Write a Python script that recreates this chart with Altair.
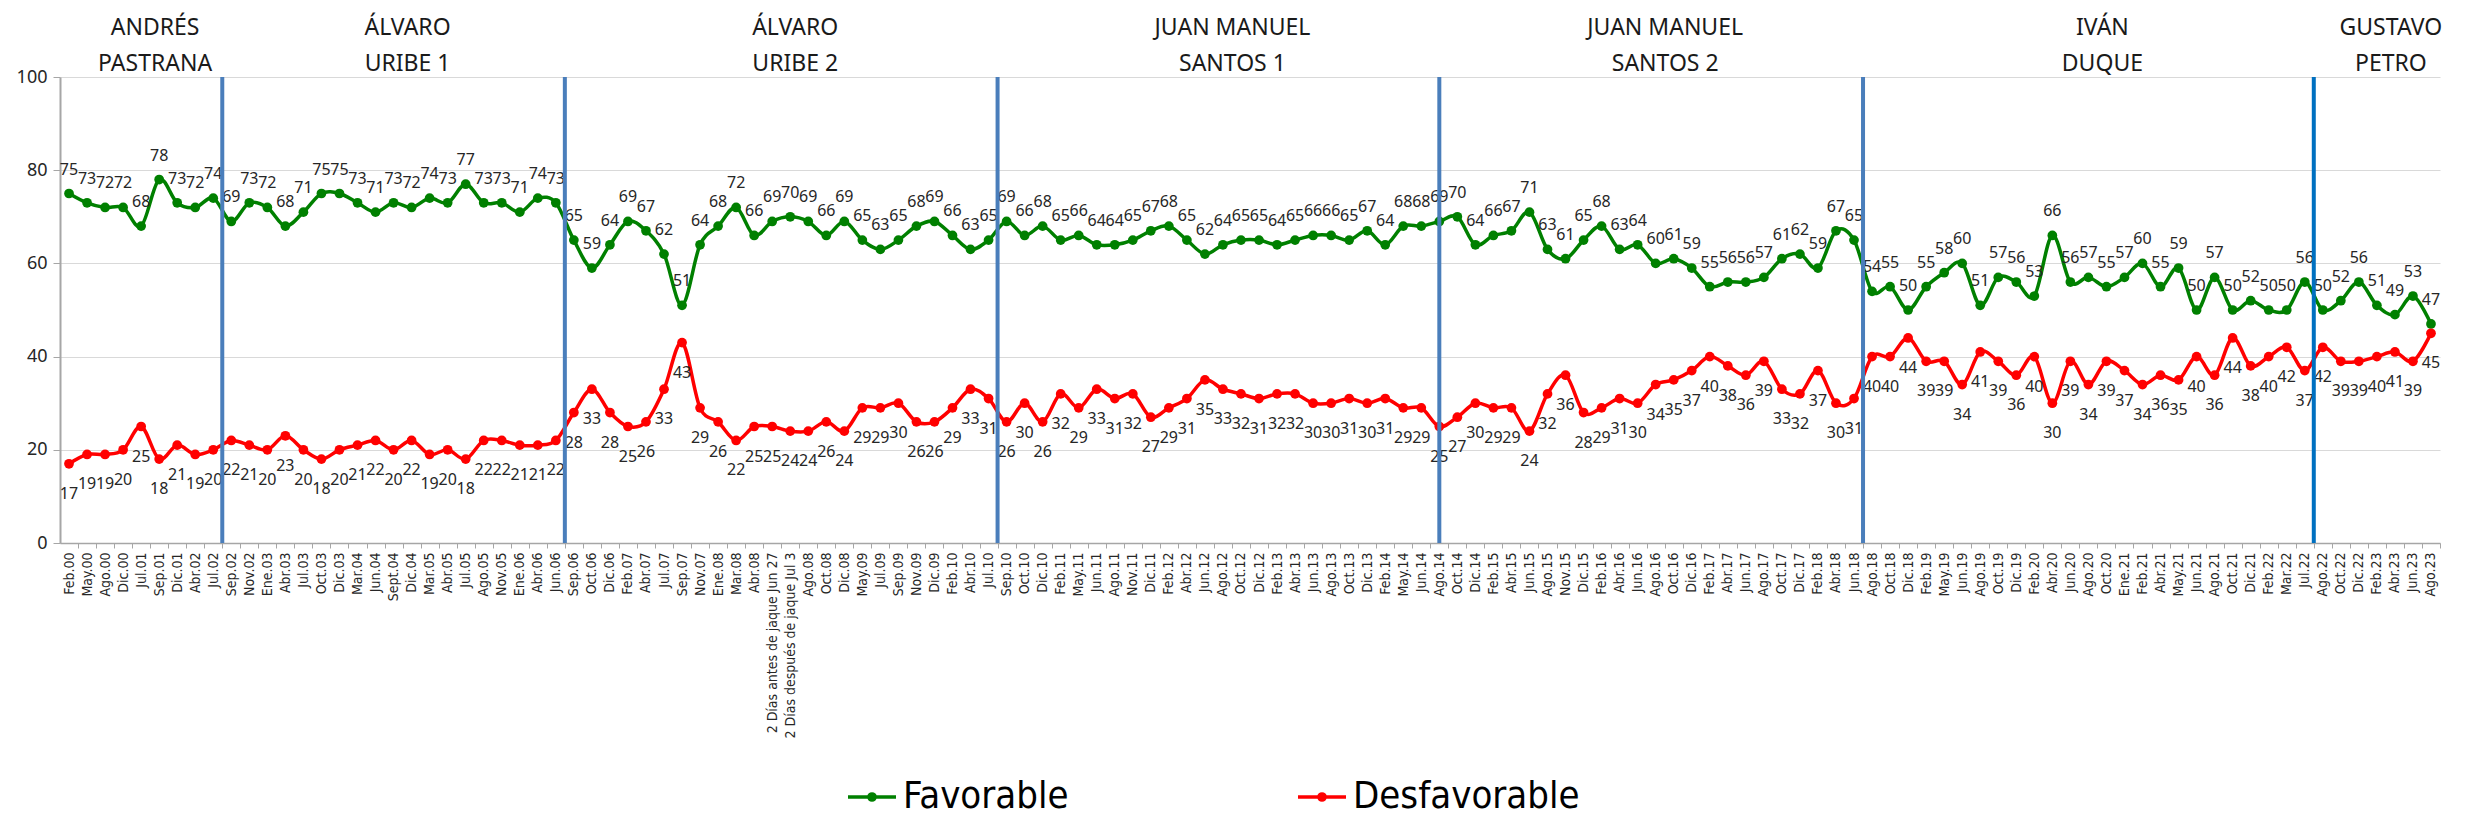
import json
import altair as alt
import pandas as pd

# ---------------- data ----------------
cats_pastrana = ["Feb.00", "May.00", "Ago.00", "Dic.00", "Jul.01", "Sep.01", "Dic.01", "Abr.02", "Jul.02"]
cats_uribe1 = ["Sep.02", "Nov.02", "Ene.03", "Abr.03", "Jul.03", "Oct.03", "Dic.03", "Mar.04", "Jun.04",
               "Sept.04", "Dic.04", "Mar.05", "Abr.05", "Jul.05", "Ago.05", "Nov.05", "Ene.06", "Abr.06", "Jun.06"]
cats_uribe2 = ["Sep.06", "Oct.06", "Dic.06", "Feb.07", "Abr.07", "Jul.07", "Sep.07", "Nov.07", "Ene.08", "Mar.08",
               "Abr.08", "2 Días antes de jaque Jun 27", "2 Días después de jaque Jul 3", "Ago.08", "Oct.08",
               "Dic.08", "May.09", "Jul.09", "Sep.09", "Nov.09", "Dic.09", "Feb.10", "Abr.10", "Jul.10"]
cats_santos1 = ["Sep.10", "Oct.10", "Dic.10", "Feb.11", "May.11", "Jun.11", "Ago.11", "Nov.11", "Dic.11", "Feb.12",
                "Abr.12", "Jun.12", "Ago.12", "Oct.12", "Dic.12", "Feb.13", "Abr.13", "Jun.13", "Ago.13", "Oct.13",
                "Dic.13", "Feb.14", "May.14", "Jun.14", "Ago.14"]
cats_santos2 = ["Oct.14", "Dic.14", "Feb.15", "Abr.15", "Jun.15", "Ago.15", "Nov.15", "Dic.15", "Feb.16", "Abr.16",
                "Jun.16", "Ago.16", "Oct.16", "Dic.16", "Feb.17", "Abr.17", "Jun.17", "Ago.17", "Oct.17", "Dic.17",
                "Feb.18", "Abr.18", "Jun.18"]
cats_duque = ["Ago.18", "Oct.18", "Dic.18", "Feb.19", "May.19", "Jun.19", "Ago.19", "Oct.19", "Dic.19", "Feb.20",
              "Abr.20", "Jun.20", "Ago.20", "Oct.20", "Ene.21", "Feb.21", "Abr.21", "May.21", "Jun.21", "Ago.21",
              "Oct.21", "Dic.21", "Feb.22", "Mar.22", "Jul.22"]
cats_petro = ["Ago.22", "Oct.22", "Dic.22", "Feb.23", "Abr.23", "Jun.23", "Ago.23"]

fav_pastrana = [75, 73, 72, 72, 68, 78, 73, 72, 74]
fav_uribe1 = [69, 73, 72, 68, 71, 75, 75, 73, 71, 73, 72, 74, 73, 77, 73, 73, 71, 74, 73]
fav_uribe2 = [65, 59, 64, 69, 67, 62, 51, 64, 68, 72, 66, 69, 70, 69, 66, 69, 65, 63, 65, 68, 69, 66, 63, 65]
fav_santos1 = [69, 66, 68, 65, 66, 64, 64, 65, 67, 68, 65, 62, 64, 65, 65, 64, 65, 66, 66, 65, 67, 64, 68, 68, 69]
fav_santos2 = [70, 64, 66, 67, 71, 63, 61, 65, 68, 63, 64, 60, 61, 59, 55, 56, 56, 57, 61, 62, 59, 67, 65]
fav_duque = [54, 55, 50, 55, 58, 60, 51, 57, 56, 53, 66, 56, 57, 55, 57, 60, 55, 59, 50, 57, 50, 52, 50, 50, 56]
fav_petro = [50, 52, 56, 51, 49, 53, 47]

des_pastrana = [17, 19, 19, 20, 25, 18, 21, 19, 20]
des_uribe1 = [22, 21, 20, 23, 20, 18, 20, 21, 22, 20, 22, 19, 20, 18, 22, 22, 21, 21, 22]
des_uribe2 = [28, 33, 28, 25, 26, 33, 43, 29, 26, 22, 25, 25, 24, 24, 26, 24, 29, 29, 30, 26, 26, 29, 33, 31]
des_santos1 = [26, 30, 26, 32, 29, 33, 31, 32, 27, 29, 31, 35, 33, 32, 31, 32, 32, 30, 30, 31, 30, 31, 29, 29, 25]
des_santos2 = [27, 30, 29, 29, 24, 32, 36, 28, 29, 31, 30, 34, 35, 37, 40, 38, 36, 39, 33, 32, 37, 30, 31]
des_duque = [40, 40, 44, 39, 39, 34, 41, 39, 36, 40, 30, 39, 34, 39, 37, 34, 36, 35, 40, 36, 44, 38, 40, 42, 37]
des_petro = [42, 39, 39, 40, 41, 39, 45]

presidents = ["ANDRÉS\nPASTRANA", "ÁLVARO\nURIBE 1", "ÁLVARO\nURIBE 2", "JUAN MANUEL\nSANTOS 1",
              "JUAN MANUEL\nSANTOS 2", "IVÁN\nDUQUE", "GUSTAVO\nPETRO"]
# term changes: between two surveys ("a|b") or on a survey ("a")
term_changes = ["Jul.02|Sep.02", "Jun.06|Sep.06", "Jul.10|Sep.10", "Ago.14", "Jun.18|Ago.18", "Jul.22|Ago.22"]
series = ["Favorable", "Desfavorable"]
series_colors = ["#008000", "#FF0000"]

# ---------------- tables ----------------
categories = cats_pastrana + cats_uribe1 + cats_uribe2 + cats_santos1 + cats_santos2 + cats_duque + cats_petro
favorable = fav_pastrana + fav_uribe1 + fav_uribe2 + fav_santos1 + fav_santos2 + fav_duque + fav_petro
desfavorable = des_pastrana + des_uribe1 + des_uribe2 + des_santos1 + des_santos2 + des_duque + des_petro
n = len(categories)
pos = {c: i for i, c in enumerate(categories)}

df = pd.DataFrame({
    "idx": list(range(n)) * 2,
    "valor": favorable + desfavorable,
    "serie": ["Favorable"] * n + ["Desfavorable"] * n,
})

div_x = [sum(pos[c] for c in t.split("|")) / len(t.split("|")) for t in term_changes]
df_div = pd.DataFrame({"idx": div_x, "last": [i == len(div_x) - 1 for i in range(len(div_x))]})

bounds = [-0.5] + div_x + [n - 0.5]
df_titles = pd.DataFrame({
    "idx": [(bounds[i] + bounds[i + 1]) / 2 for i in range(len(presidents))],
    "name": presidents,
})

# ---------------- chart ----------------
W, H = 2380, 466
step = W / n
narrow = "Liberation Sans Narrow, DejaVu Sans Condensed, Arial Narrow, sans-serif"
label_expr = json.dumps(categories, ensure_ascii=False) + "[datum.value]"

x_enc = alt.X(
    "idx:Q",
    scale=alt.Scale(domain=[-0.5, n - 0.5], nice=False, zero=False),
    axis=alt.Axis(
        values=list(range(n)), labelExpr=label_expr, title=None, grid=False,
        labelAngle=270, labelAlign="right", labelBaseline="middle",
        labelOverlap=False, labelFlush=False, labelBound=False, labelLimit=400,
        tickOffset=step / 2, labelOffset=-step / 2,
        labelFont=narrow, labelFontSize=14, labelColor="#262626", labelPadding=4,
        tickSize=5, tickColor="#A6A6A6", domainColor="#A6A6A6", domainWidth=1.5,
    ),
)
y_enc = alt.Y(
    "valor:Q",
    scale=alt.Scale(domain=[0, 100], nice=False),
    axis=alt.Axis(
        values=[0, 20, 40, 60, 80, 100], title=None, grid=True, gridColor="#D9D9D9",
        labelFont="Noto Sans", labelFontSize=18, labelColor="#262626", labelPadding=6,
        tickSize=7, tickColor="#A6A6A6", domainColor="#A6A6A6", domainWidth=2,
    ),
)

legend_symbol = "M-1,0L1,0M-0.13,0A0.13,0.13,0,1,1,0.13,0A0.13,0.13,0,1,1,-0.13,0Z"
color_enc = alt.Color(
    "serie:N",
    scale=alt.Scale(domain=series, range=series_colors),
    legend=alt.Legend(
        orient="none", legendX=786, legendY=694, direction="horizontal", title=None,
        symbolType=legend_symbol, symbolSize=2304, symbolStrokeWidth=3.5,
        labelFont=narrow, labelFontSize=38, labelColor="#000000", labelLimit=600,
        labelOffset=5, columnPadding=222, padding=0,
    ),
)

base = alt.Chart(df)
lines = base.mark_line(strokeWidth=3.5, interpolate="cardinal").encode(
    x=x_enc, y=y_enc, color=color_enc, detail="serie:N"
)
points = base.mark_circle(size=95, opacity=1).encode(x=x_enc, y=y_enc, color=color_enc)

labels_fav = base.transform_filter(alt.datum.serie == "Favorable").mark_text(
    font="Noto Sans", fontSize=16, color="#262626", dy=-24, baseline="middle"
).encode(x=x_enc, y=y_enc, text="valor:Q")
labels_des = base.transform_filter(alt.datum.serie == "Desfavorable").mark_text(
    font="Noto Sans", fontSize=16, color="#262626", dy=30, baseline="middle"
).encode(x=x_enc, y=y_enc, text="valor:Q")

dividers = alt.Chart(df_div).mark_rule(strokeWidth=4).encode(
    x=x_enc, y=alt.value(0), y2=alt.value(H),
    color=alt.condition("datum.last", alt.value("#0070C0"), alt.value("#4A7EBB")),
)

titles = alt.Chart(df_titles).mark_text(
    font="Noto Sans", fontSize=23, lineBreak="\n", lineHeight=36, baseline="alphabetic",
    align="center", dx=14, color="#1A1A1A"
).encode(x=x_enc, y=alt.value(-42), text="name:N")

chart = alt.layer(lines, points, labels_fav, labels_des, dividers, titles).properties(
    width=W, height=H,
    autosize=alt.AutoSizeParams(type="none"),
    padding={"left": 52, "top": 69, "right": 15, "bottom": 275},
).configure_view(stroke=None)

chart.save("out.html", embed_options={"renderer": "svg", "actions": False})
